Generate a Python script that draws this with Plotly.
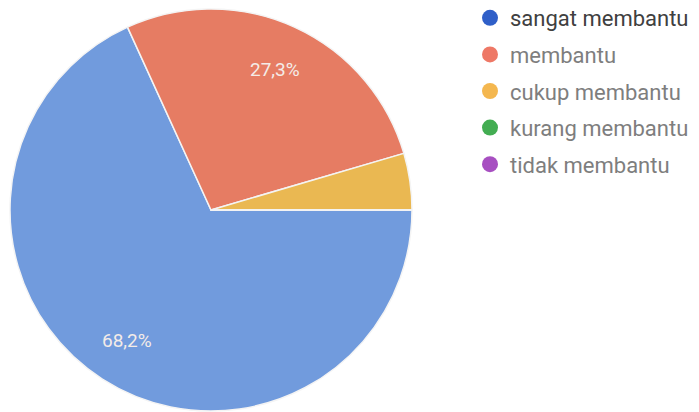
import math
import plotly.graph_objects as go

categories = ["sangat membantu", "membantu", "cukup membantu", "kurang membantu", "tidak membantu"]
values = [15, 6, 1, 0, 0]
slice_colors = ["#719bdd", "#e67c63", "#eab852", "#3fae4e", "#a64fc0"]
legend_colors = ["#2f5fc8", "#ee7866", "#f4b74f", "#43ad52", "#a74fc1"]
legend_text_colors = ["#404040", "#7e7e7e", "#7e7e7e", "#7e7e7e", "#7e7e7e"]
show_label = [True, True, False, False, False]

W, H = 699, 412
# pie geometry (layout)
CX, CY, R = 211, 210, 201
ROT = 90  # first slice starts at 3 o'clock, clockwise
LABEL_R = 0.77
OFF = 8  # page offset correction

fig = go.Figure()
fig.add_trace(go.Pie(
    labels=categories,
    values=values,
    sort=False,
    direction="clockwise",
    rotation=ROT,
    marker=dict(colors=slice_colors, line=dict(color="#f4f4f4", width=1.5)),
    textinfo="none",
    showlegend=False,
    hoverinfo="label+percent",
    domain=dict(x=[(CX - R - OFF) / W, (CX + R - OFF) / W],
                y=[(H - (CY + R) + OFF) / H, (H - (CY - R) + OFF) / H]),
))

# percentage labels placed from the data
total = sum(values)
cum = 0.0
for v, show in zip(values, show_label):
    start = cum
    cum += v
    if not show or v == 0:
        continue
    mid = ROT + 360.0 * (start + v / 2) / total  # degrees clockwise from 12 o'clock
    px = CX + LABEL_R * R * math.sin(math.radians(mid)) - OFF
    py = CY - LABEL_R * R * math.cos(math.radians(mid)) - OFF
    pct = f"{100 * v / total:.1f}".replace(".", ",") + "%"
    fig.add_annotation(x=px / W, y=1 - py / H, xref="paper", yref="paper",
                       xanchor="center", yanchor="middle",
                       text=pct, showarrow=False,
                       font=dict(family="Roboto", size=19, color="#f4ece8"))

for name, col, tcol in zip(categories, legend_colors, legend_text_colors):
    fig.add_trace(go.Scatter(
        x=[None], y=[None], mode="markers",
        marker=dict(symbol="circle", size=20, color=col),
        name=f"<span style='color:{tcol}'>{name}</span>",
        legendgroup=name,
        showlegend=True,
    ))

fig.update_layout(
    width=W, height=H,
    margin=dict(l=0, r=0, t=0, b=0, autoexpand=False),
    paper_bgcolor="white", plot_bgcolor="white",
    xaxis=dict(visible=False), yaxis=dict(visible=False),
    legend=dict(
        x=462 / W, y=1 + 11 / H, xanchor="left", yanchor="top",
        font=dict(family="Roboto", size=22, color="#7e7e7e"),
        bgcolor="rgba(0,0,0,0)", tracegroupgap=5, itemsizing="trace",
    ),
)

fig.write_html("out.html")
